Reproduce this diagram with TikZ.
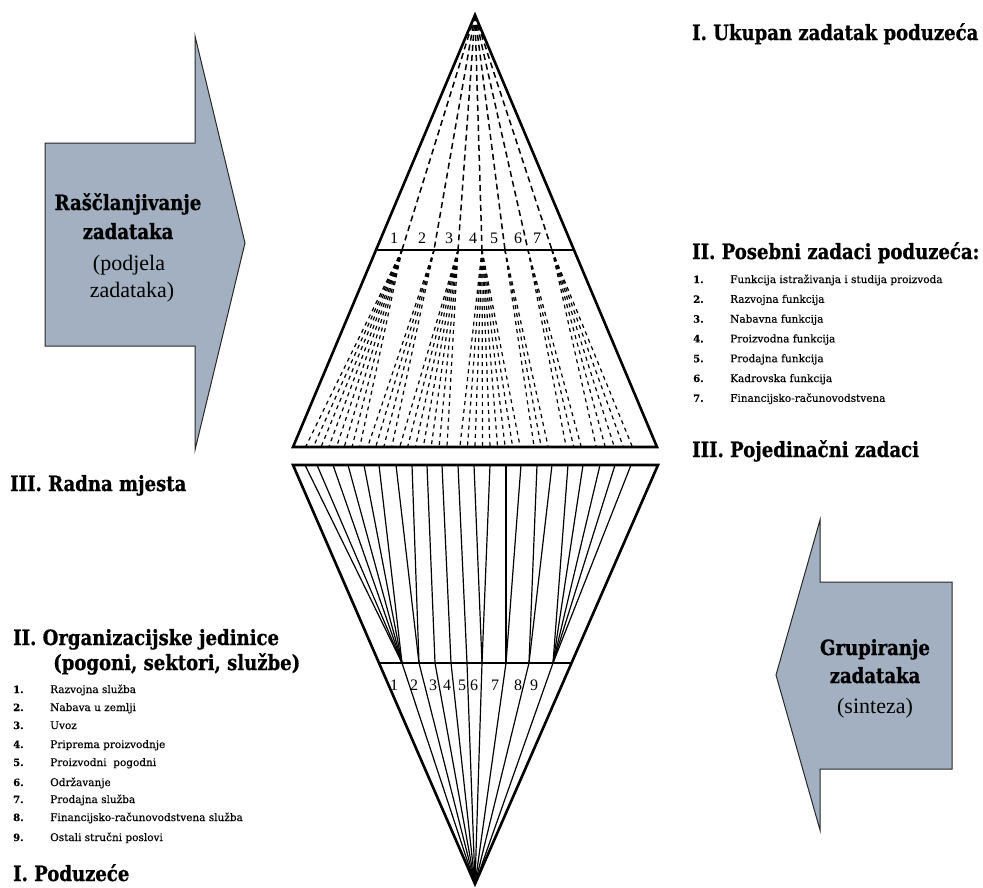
\documentclass[tikz,border=0pt]{standalone}
\usepackage{fontspec}
\setmainfont{Liberation Serif}
\newfontfamily\hfont{DejaVu Serif}[FakeStretch=0.86,FakeBold=0.8]
\newfontfamily\lfont{DejaVu Serif}[FakeBold=0.4]
\definecolor{arrowfill}{RGB}{162,176,193}
\definecolor{arrowline}{RGB}{40,40,40}
\begin{document}
\begin{tikzpicture}[x=1pt,y=-1pt,
  heading/.style={anchor=base west, inner sep=0pt, font=\hfont\bfseries\fontsize{21}{24}\selectfont},
  arrbold/.style={anchor=base, inner sep=0pt, font=\hfont\bfseries\fontsize{21}{24}\selectfont},
  arrreg/.style={anchor=base, inner sep=0pt, font=\fontsize{22}{26}\selectfont},
  listnum/.style={anchor=base west, inner sep=0pt, font=\lfont\bfseries\fontsize{10}{12}\selectfont},
  listtxt/.style={anchor=base west, inner sep=0pt, font=\lfont\fontsize{10.5}{12}\selectfont},
  numlab/.style={anchor=base, inner sep=0pt, font=\fontsize{16}{18}\selectfont},
  outline/.style={line width=2.6pt, line join=miter},
  barline/.style={line width=2.8pt},
  thinline/.style={line width=1.2pt},
  apexdash/.style={line width=1.5pt, dash pattern=on 6pt off 4pt},
  fandash/.style={line width=1.2pt, dash pattern=on 4pt off 4pt},
  bigarrow/.style={fill=arrowfill, draw=arrowline, line width=1pt, line join=miter}
]
\useasboundingbox (0,0) rectangle (983,887);

% ---------- arrows ----------
\draw[bigarrow] (45,143) -- (195,143) -- (195,36) -- (245,243) -- (195,450) -- (195,346) -- (45,346) -- cycle;
\node[arrbold] (ra1) at (128,210) {Raščlanjivanje};
\node[arrbold] (ra2) at (128,239) {zadataka};
\node[arrreg]  (ra3) at (129,270) {(podjela};
\node[arrreg]  (ra4) at (132,297) {zadataka)};

\draw[bigarrow] (952,582) -- (820,582) -- (820,520) -- (776,675) -- (820,830) -- (820,769) -- (952,769) -- cycle;
\node[arrbold] (gr1) at (875,655) {Grupiranje};
\node[arrbold] (gr2) at (875,683) {zadataka};
\node[arrreg]  (gr3) at (875,713) {(sinteza)};

% ---------- geometry ----------
\coordinate (topapex) at (475,15);
\coordinate (ubl) at (293,447);
\coordinate (ubr) at (657,447);
\coordinate (ltl) at (293,465);
\coordinate (ltr) at (658,465);
\coordinate (botapex) at (475,884);
\coordinate (ubarl) at (376,250);
\coordinate (ubarr) at (574,250);
\coordinate (lbarl) at (379,663);
\coordinate (lbarr) at (571,663);

% upper dashed lines from apex
\foreach \x [count=\i] in {402,434,458,482,505,528,552} {
  \coordinate (u\i) at (\x,250);
  \draw[apexdash] (topapex) -- (u\i);
}
% fans of individual tasks
\foreach \p/\a/\b/\n in {1/306/360/8, 2/368/392/4, 3/400/447/7, 4/460/520/9, 5/534/548/3, 6/566/581/3, 7/596/632/5} {
  \foreach \k in {1,...,\n} {
    \pgfmathsetmacro\xx{\a+(\b-\a)*(\k-1)/(\n-1)}
    \coordinate (f\p-\k) at (\xx,446);
    \draw[fandash] (u\p) -- (f\p-\k);
  }
}

% lower part: lines from apex to organisational units
\foreach \x [count=\i] in {402,419,435,451,467,482,506,529,553} {
  \coordinate (b\i) at (\x,663);
  \draw[thinline] (botapex) -- (b\i);
}
% lines from work places to units
\foreach \x/\j [count=\i] in {305/1,317/1,333/1,348/1,364/1,379/1,396/2,412/2,427/3,442/4,458/5,474/6,490/6,506/7,521/7,537/8,552/8,568/9,583/9,600/9,615/9,631/9} {
  \coordinate (t\i) at (\x,465);
  \draw[thinline] (t\i) -- (b\j);
}

% outlines
\draw[outline] (ubl) -- (topapex) -- (ubr) -- cycle;
\draw[outline] (ltl) -- (ltr) -- (botapex) -- cycle;
\draw[barline] (ubarl) -- (ubarr);
\draw[barline] (lbarl) -- (lbarr);

% numbers in triangles
\foreach \x [count=\i] in {394,422,449,473,494,518,537} {
  \node[numlab] (un\i) at (\x,243) {\i};
}
\foreach \x [count=\i] in {394,414,433,447,462,474,495,518,534} {
  \node[numlab] (ln\i) at (\x,690) {\i};
}

% ---------- right texts ----------
\node[heading] (h1) at (692,40) {I. Ukupan zadatak poduzeća};
\node[heading] (h2) at (692,259) {II. Posebni zadaci poduzeća:};
\foreach \t [count=\i] in {Funkcija istraživanja i studija proizvoda, Razvojna funkcija, Nabavna funkcija, Proizvodna funkcija, Prodajna funkcija, Kadrovska funkcija, Financijsko-računovodstvena} {
  \pgfmathsetmacro\yy{283+19.8*(\i-1)}
  \node[listnum] (rn\i) at (693,\yy) {\i.};
  \node[listtxt] (rt\i) at (730,\yy) {\t};
}
\node[heading] (h3) at (692,457) {III. Pojedinačni zadaci};

% ---------- left texts ----------
\node[heading] (h4) at (10,491) {III. Radna mjesta};
\node[heading] (h5) at (13,645) {II. Organizacijske jedinice};
\node[heading] (h6) at (53,670) {(pogoni, sektori, službe)};
\foreach \t/\yy [count=\i] in {Razvojna služba/693, Nabava u zemlji/711, Uvoz/729, Priprema proizvodnje/748, Proizvodni\ \ pogodni/766, Održavanje/786, Prodajna služba/803, Financijsko-računovodstvena služba/821, Ostali stručni poslovi/841} {
  \node[listnum] (ln\i n) at (13,\yy) {\i.};
  \node[listtxt] (lt\i) at (50,\yy) {\t};
}
\node[heading] (h7) at (13,881) {I. Poduzeće};
\end{tikzpicture}
\end{document}
